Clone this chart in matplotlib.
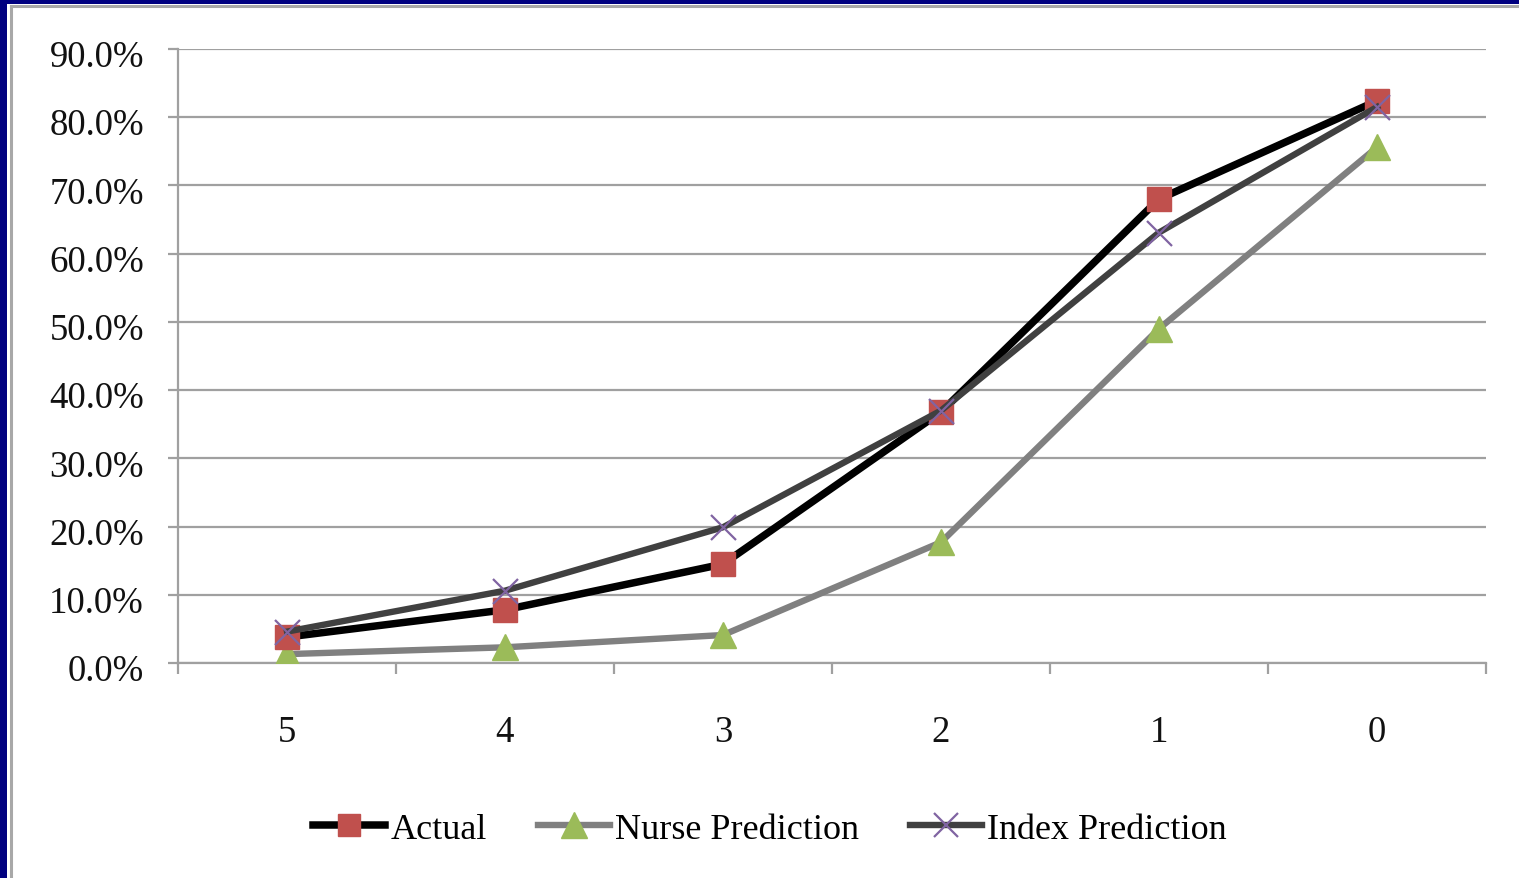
import matplotlib
matplotlib.use("Agg")
import matplotlib.pyplot as plt
import matplotlib.transforms as mtransforms
from matplotlib.patches import Rectangle
from matplotlib.lines import Line2D
from matplotlib.ticker import FixedLocator, FuncFormatter

categories = ["5", "4", "3", "2", "1", "0"]
actual = [3.8, 7.8, 14.5, 36.8, 68.0, 82.4]
nurse_prediction = [1.3, 2.3, 4.1, 17.7, 49.0, 75.6]
index_prediction = [4.6, 10.6, 19.9, 37.0, 63.1, 81.5]
y_ticks = [0, 10, 20, 30, 40, 50, 60, 70, 80, 90]

W, H = 1519, 879
fig = plt.figure(figsize=(W / 100, H / 100), dpi=100)
fig.patch.set_facecolor("white")

def fx(px):
    return px / W

def fy(py):
    return 1 - py / H

# plot area in pixel terms
left, right, top, bottom = 178, 1486, 50, 664
ax = fig.add_axes([fx(left), fy(bottom), fx(right - left), (bottom - top) / H])

font = "Liberation Serif"
x = list(range(len(categories)))

ax.plot(x, actual, color="black", lw=5.4, marker="s", ms=17,
        mfc="#C0504D", mec="#C0504D", label="Actual", zorder=5, solid_joinstyle="round")
ax.plot(x, nurse_prediction, color="#808080", lw=4.6, marker="^", ms=19,
        mfc="#9BBB59", mec="#9BBB59", label="Nurse Prediction", zorder=4, solid_joinstyle="round")
ax.plot(x, index_prediction, color="#404040", lw=4.6, marker="x", ms=18, mew=1.6,
        mfc="#8064A2", mec="#8064A2", label="Index Prediction", zorder=6, solid_joinstyle="round")

ax.set_xlim(-0.5, len(categories) - 0.5)
ax.set_ylim(0, 90)

ax.yaxis.set_major_locator(FixedLocator(y_ticks))
ax.yaxis.set_major_formatter(FuncFormatter(lambda v, p: f"{v:.1f}%"))
ax.grid(axis="y", color="#A0A0A0", lw=1.6, zorder=0)
ax.set_axisbelow(True)

ax.set_xticks(x)
ax.set_xticklabels(categories)
ax.set_xticks([i - 0.5 for i in range(len(categories) + 1)], minor=True)
ax.tick_params(axis="x", which="major", length=0, pad=37, labelsize=26.5, labelcolor="#111111")
ax.tick_params(axis="x", which="minor", length=8, width=1.6, color="#A0A0A0", direction="out")
ax.tick_params(axis="y", which="major", length=7.5, width=1.6, color="#A0A0A0", pad=17,
               labelsize=26.5, labelcolor="#111111")
# nudge the percentage labels slightly below their gridlines
shift = mtransforms.ScaledTranslation(0, -4 / 100, fig.dpi_scale_trans)
for lab in ax.get_yticklabels():
    lab.set_transform(lab.get_transform() + shift)
for lab in ax.get_xticklabels() + ax.get_yticklabels():
    lab.set_fontfamily(font)

for side in ["top", "right"]:
    ax.spines[side].set_visible(False)
for side in ["left", "bottom"]:
    ax.spines[side].set_color("#A0A0A0")
    ax.spines[side].set_linewidth(1.6)

leg = fig.legend(loc="center", bbox_to_anchor=(fx(770), fy(830)), ncol=3, frameon=False,
                 prop={"family": font, "size": 26}, handlelength=2.0, handletextpad=0.15,
                 columnspacing=1.4, markerscale=0.95)

# outer frame: navy band on left and top, thin grey rule inside
fig.add_artist(Rectangle((0, 0), fx(7), 1, transform=fig.transFigure, color="#000080", lw=0))
fig.add_artist(Rectangle((0, fy(5)), 1, 5 / H, transform=fig.transFigure, color="#000080", lw=0))
fig.add_artist(Line2D([fx(10.5), fx(10.5)], [0, fy(7)], transform=fig.transFigure,
                      color="#A8A8A8", lw=2.2))
fig.add_artist(Line2D([fx(10.5), 1], [fy(7), fy(7)], transform=fig.transFigure,
                      color="#A8A8A8", lw=2.2))

fig.savefig("out.png", dpi=100)
